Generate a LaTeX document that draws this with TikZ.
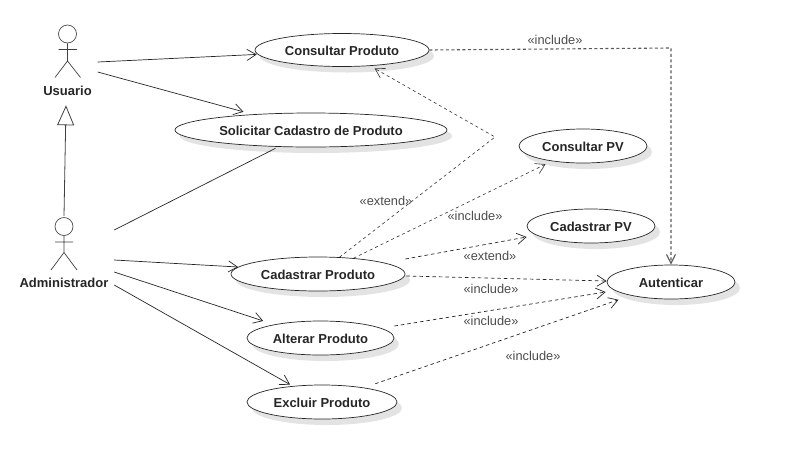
\documentclass[tikz,border=0pt]{standalone}
\usepackage{fontspec}
\setmainfont{Liberation Sans}
\usetikzlibrary{arrows.meta,shapes.geometric,shadows}
\tikzset{
  uc/.style={ellipse,draw=black!85,line width=0.7pt,fill=white,inner sep=0pt,text=black!85,
    font=\bfseries\fontsize{13}{15}\selectfont,text height=11pt,text depth=0pt,
    drop shadow={shadow xshift=5pt,shadow yshift=-6pt,fill=black!11,opacity=1}},
  actorbox/.style={inner sep=0pt,draw=none},
  limb/.style={draw=black!75,line width=0.7pt},
  head/.style={circle,draw=black!70,line width=0.7pt,minimum size=18pt,inner sep=0pt},
  actorname/.style={text=black!85,font=\bfseries\fontsize{13}{15}\selectfont,inner sep=0pt},
  stereo/.style={text=black!70,font=\fontsize{12.8}{15}\selectfont,inner sep=0pt},
  assoc/.style={draw=black!85,line width=0.7pt},
  assocarrow/.style={assoc,-{Straight Barb[length=9pt,width=11pt]}},
  dep/.style={draw=black!85,line width=0.7pt,dash pattern=on 3.5pt off 3pt,-{Straight Barb[length=9pt,width=11pt]}},
  depthin/.style={draw=black!80,line width=0.6pt,dash pattern=on 3pt off 3pt,-{Straight Barb[length=9pt,width=11pt]}},
  depthick/.style={draw=black!65,line width=1.1pt,dash pattern=on 3pt off 2.5pt,-{Straight Barb[length=9pt,width=9pt]}},
  gener/.style={draw=black!75,line width=0.8pt,-{Triangle[open,fill=white,length=20pt,width=17pt]}}
}
\begin{document}
\begin{tikzpicture}[x=1pt,y=-1pt]
\useasboundingbox (0,0) rectangle (796,459);
% use cases
\node[uc,minimum width=174pt,minimum height=33pt] (consultar) at (342,50) {Consultar Produto};
\node[uc,minimum width=272pt,minimum height=34pt] (solicitar) at (311,130) {Solicitar Cadastro de Produto};
\node[uc,minimum width=128pt,minimum height=34pt] (consultarpv) at (583,146) {Consultar PV};
\node[uc,minimum width=128pt,minimum height=34pt] (cadastrarpv) at (591,226) {Cadastrar PV};
\node[uc,minimum width=128pt,minimum height=34pt] (autenticar) at (671,282) {Autenticar};
\node[uc,minimum width=174pt,minimum height=34pt] (cadastrar) at (318,274) {Cadastrar Produto};
\node[uc,minimum width=147pt,minimum height=34pt] (alterar) at (320.5,338) {Alterar Produto};
\node[uc,minimum width=150pt,minimum height=34pt] (excluir) at (322,402) {Excluir Produto};
% actor Usuario
\node[head] (usuariohead) at (67.5,34) {};
\draw[limb] (usuariohead.south) -- (67.5,61) (58.5,49.5) -- (77,49.5) (55,77.5) -- (67.5,61) -- (80.5,77.5);
\node[actorname] (usuariolabel) at (67.5,91) {Usuario};
\node[actorbox,minimum width=60pt,minimum height=50pt] (usuario) at (67.5,67) {};
% actor Administrador
\node[head] (adminhead) at (64,226.5) {};
\draw[limb] (adminhead.south) -- (64,252.5) (55,242) -- (73,242) (51,270) -- (64,252.5) -- (77,270);
\node[actorname] (adminlabel) at (64,283) {Administrador};
\node[actorbox,minimum width=100pt,minimum height=60pt] (admin) at (64,257) {};
% free corners
\coordinate (extendbend) at (495,137);
\coordinate (includebend) at (671,48);
% associations
\draw[assocarrow] ([yshift=5pt]usuario.east) -- ([xshift=-1pt]consultar.183);
\draw[assocarrow] ([yshift=-5pt]usuario.east) -- ([shift={(-9,-2.5)}]solicitar.165);
\draw[assoc] ([yshift=27pt]admin.east) -- ([shift={(-2.5,1.5)}]solicitar.207);
\draw[assocarrow] ([yshift=-3pt]admin.east) -- (cadastrar.175);
\draw[assocarrow] ([yshift=-15pt]admin.east) -- ([shift={(-14,-3)}]alterar.162);
\draw[assocarrow] ([yshift=-28pt]admin.east) -- ([shift={(-2,-1.5)}]excluir.152);
% generalization
\draw[gener] ([yshift=1pt]adminhead.north) -- ([shift={(-1.5,9.3)}]usuariolabel.south);
% dependencies
\draw[depthick] (consultar.east) -- (includebend) -- (autenticar.north);
\draw[depthin] (cadastrar.38) -- (extendbend) -- ([shift={(5,2.5)}]consultar.-30);
\draw[depthin] (cadastrar.24) -- ([shift={(8,6)}]consultarpv.south west);
\draw[dep] ([yshift=15pt]cadastrar.east) -- ([yshift=-11pt]cadastrarpv.west);
\draw[dep] ([shift={(1,2)}]cadastrar.east) -- ([yshift=1pt]autenticar.west);
\draw[dep] ([yshift=12pt]alterar.east) -- ([shift={(-1,10)}]autenticar.west);
\draw[dep] ([yshift=6pt]excluir.north east) -- ([shift={(-7,5.5)}]autenticar.south west);
% stereotypes
\node[stereo] (l1) at (555,39.5) {«include»};
\node[stereo] (l2) at (386,201) {«extend»};
\node[stereo] (l3) at (475,216) {«include»};
\node[stereo] (l4) at (490,256) {«extend»};
\node[stereo] (l5) at (491,288.5) {«include»};
\node[stereo] (l6) at (491,320.5) {«include»};
\node[stereo] (l7) at (533,356) {«include»};
\end{tikzpicture}
\end{document}
